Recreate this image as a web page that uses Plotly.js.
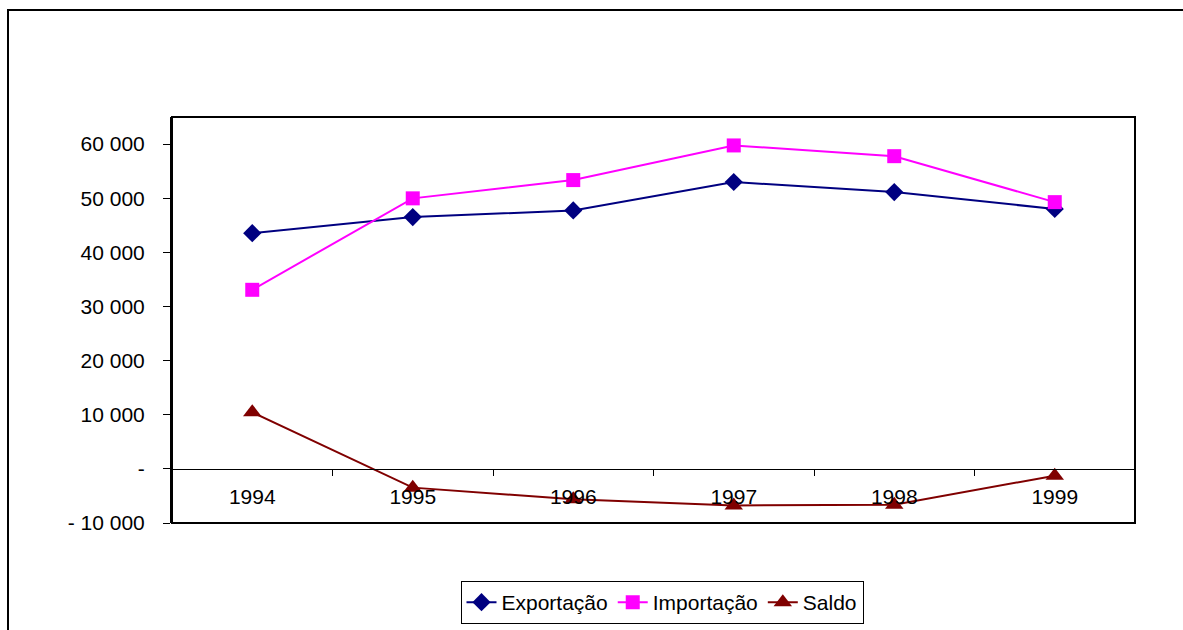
<!DOCTYPE html>
<html>
<head>
<meta charset="utf-8">
<script src="https://cdn.plot.ly/plotly-3.0.1.min.js"></script>
<style>html,body{margin:0;padding:0;background:#fff;}#chart{width:1183px;height:630px;}</style>
</head>
<body>
<div id="chart"></div>
<script>
const years = ["1994", "1995", "1996", "1997", "1998", "1999"];
const exportacao = [43545, 46506, 47747, 52994, 51140, 48011];
const importacao = [33079, 49972, 53346, 59747, 57763, 49272];
const saldo = [10466, -3466, -5599, -6753, -6624, -1261];
const yTickVals = [-10000, 0, 10000, 20000, 30000, 40000, 50000, 60000];
const yTickText = ["- 10 000", "-", "10 000", "20 000", "30 000", "40 000", "50 000", "60 000"];

const FONT = "Liberation Sans, Arial, sans-serif";
const FS = 21;
const traces = [
  {x: years, y: exportacao, name: "Exportação", type: "scatter", mode: "lines+markers",
   line: {color: "#000080", width: 2}, marker: {symbol: "diamond", size: 14, color: "#000080"}},
  {x: years, y: importacao, name: "Importação", type: "scatter", mode: "lines+markers",
   line: {color: "#FF00FF", width: 2}, marker: {symbol: "square", size: 14, color: "#FF00FF"}},
  {x: years, y: saldo, name: "Saldo", type: "scatter", mode: "lines+markers",
   line: {color: "#800000", width: 2}, marker: {symbol: "triangle-up", size: 16, color: "#800000"}}
];
const yMin = -10000, yMax = 65000;
const layout = {
  width: 1183, height: 630,
  margin: {l: 172, r: 48, t: 117, b: 107, autoexpand: false},
  paper_bgcolor: "#fff", plot_bgcolor: "#fff",
  font: {family: FONT, size: FS, color: "#000"},
  showlegend: true,
  legend: {orientation: "h", xref: "container", yref: "container",
           x: 662 / 1183, xanchor: "center", y: (630 - 581) / 630, yanchor: "top",
           bordercolor: "#000", borderwidth: 1, font: {family: FONT, size: FS, color: "#000"},
           tracegroupgap: 0},
  xaxis: {type: "category", range: [-0.5, 5.5], anchor: "free", position: (0 - yMin) / (yMax - yMin),
          automargin: false,
          showline: true, linecolor: "#000", linewidth: 1, showgrid: false, zeroline: false,
          ticks: "outside", tickson: "boundaries", ticklen: 6, tickcolor: "#000", tickwidth: 1,
          ticklabelstandoff: 9, tickfont: {family: FONT, size: FS, color: "#000"}, fixedrange: true},
  yaxis: {range: [yMin, yMax], tickvals: yTickVals, ticktext: yTickText, showgrid: false, zeroline: false,
          automargin: false,
          showline: true, linecolor: "#000", linewidth: 2, ticks: "outside", ticklen: 7, tickcolor: "#000",
          tickwidth: 1, ticklabelstandoff: 14, tickfont: {family: FONT, size: FS, color: "#000"}, fixedrange: true},
  shapes: [
    {type: "rect", xref: "paper", yref: "paper", x0: 0, x1: 1, y0: 0, y1: 1,
     line: {color: "#000", width: 2}, fillcolor: "rgba(0,0,0,0)", layer: "above"},
    {type: "rect", xref: "paper", yref: "paper", x0: (8 - 172) / 963, x1: 1.2, y0: -0.5, y1: 1 + (117 - 10) / 406,
     line: {color: "#000", width: 2}, fillcolor: "rgba(0,0,0,0)", layer: "below"}
  ]
};
Plotly.newPlot("chart", traces, layout, {displayModeBar: false, staticPlot: true});
</script>
</body>
</html>
